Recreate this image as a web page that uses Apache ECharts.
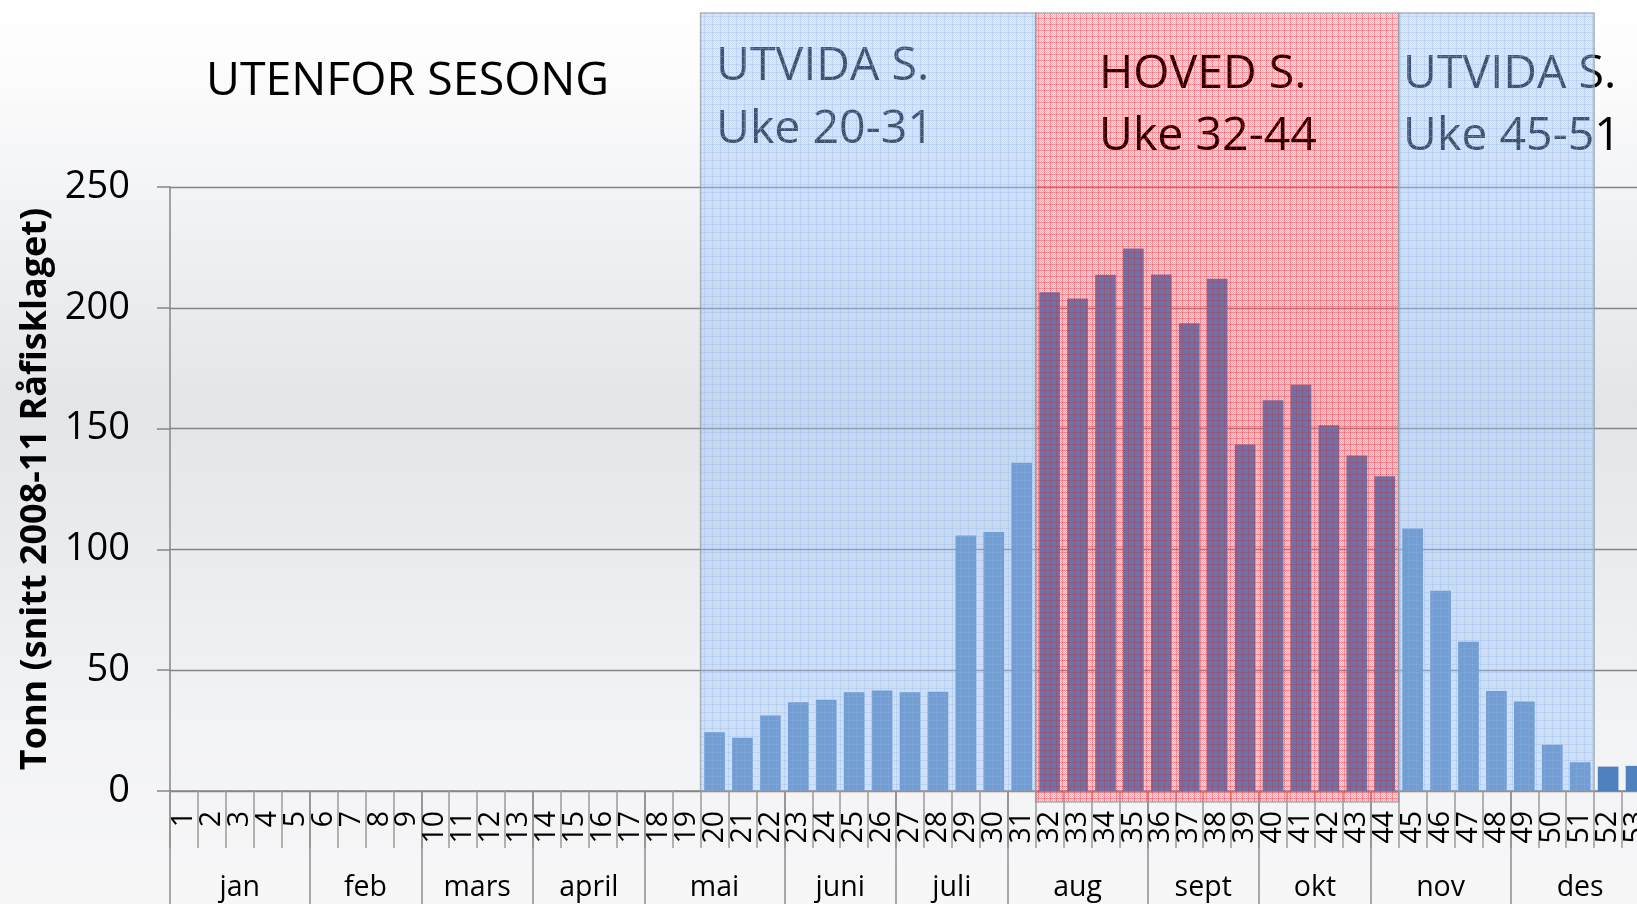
<!DOCTYPE html>
<html>
<head>
<meta charset="utf-8">
<script src="https://cdn.jsdelivr.net/npm/echarts@6/dist/echarts.min.js"></script>
<style>
html,body{margin:0;padding:0;width:1637px;height:904px;overflow:hidden;}
#chart{width:1637px;height:904px;}
</style>
</head>
<body>
<div id="chart"></div>
<script>
// ---- data ----
const weeks = ['1','2','3','4','5','6','7','8','9','10','11','12','13','14','15','16','17','18','19','20',
  '21','22','23','24','25','26','27','28','29','30','31','32','33','34','35','36','37','38','39','40',
  '41','42','43','44','45','46','47','48','49','50','51','52','53'];
const tonnes = [0,0,0,0,0,0,0,0,0,0,0,0,0,0,0,0,0,0,0,
  24.3,22.0,31.2,36.7,37.8,40.9,41.6,40.9,41.1,105.8,107.2,135.9,
  206.4,203.8,213.7,224.5,213.8,193.6,212.0,143.4,161.7,168.2,151.4,138.9,130.3,
  108.7,82.9,61.8,41.4,37.0,19.1,11.9,10.1,10.4];
const months = ['jan','feb','mars','april','mai','juni','juli','aug','sept','okt','nov','des'];
const monthWeekCounts = [5,4,4,4,5,4,4,5,4,4,5,5];
const yTicks = [0,50,100,150,200,250];
const seasonStart = [20,32,45];
const seasonEnd = [31,44,51];
const seasonKind = ['ext','main','ext'];
const seasonTitle = ['UTVIDA S.','HOVED S.','UTVIDA S.'];
const seasonWeeks = ['Uke 20-31','Uke 32-44','Uke 45-51'];
const outsideTitle = 'UTENFOR SESONG';
const yName = 'Tonn (snitt 2008-11 Råfisklaget)';

// month axis at half-week resolution (boundaryGap false: 0..53 weeks in 0.5 steps)
const monthSlots = new Array(107).fill('');
const monthBounds = new Set([0]);
let acc = 0;
months.forEach((m,i)=>{
  monthSlots[acc*2 + monthWeekCounts[i]] = m;
  acc += monthWeekCounts[i];
  monthBounds.add(acc*2);
});

// ---- patterns ----
function tile(n, draw){
  const c = document.createElement('canvas');
  c.width = n; c.height = n;
  draw(c.getContext('2d'), n);
  return {image:c, repeat:'repeat'};
}
const fills = {
  // main season: pink base under the bars, red speckle above them
  mainUnder: tile(6,(g,n)=>{
    g.fillStyle='rgba(245,140,150,0.22)'; g.fillRect(0,0,n,n);
    g.fillStyle='rgba(240,80,90,0.18)';
    for(let y=0;y<n;y++) for(let x=0;x<n;x++) if((x+y)%2===0) g.fillRect(x,y,1,1);
  }),
  mainOver: tile(6,(g,n)=>{
    g.fillStyle='rgba(235,40,55,0.15)';
    for(let y=0;y<n;y++) for(let x=0;x<n;x++) if((x+y)%2===0) g.fillRect(x,y,1,1);
    g.fillStyle='rgba(230,30,45,0.30)';
    g.fillRect(0,0,n,1); g.fillRect(0,0,1,n);
  }),
  ext: tile(8,(g,n)=>{
    g.fillStyle='rgba(170,200,240,0.36)'; g.fillRect(0,0,n,n);
    g.fillStyle='rgba(150,185,235,0.22)';
    for(let y=0;y<n;y++) for(let x=0;x<n;x++) if((x+y)%2===0) g.fillRect(x,y,1,1);
    g.fillStyle='rgba(140,180,235,0.30)';
    g.fillRect(0,0,n,1); g.fillRect(0,0,1,n);
  })
};

const FONT = 'Open Sans';
const chart = echarts.init(document.getElementById('chart'));

const txt = (t,x,y)=>({type:'text', z:2, style:{text:t, x:x, y:y, fill:'#000', font:'46.5px "Open Sans"', verticalAlign:'middle'}});

function regionRenderer(layer){
  return (params,api)=>{
    const s=api.value(0), e=api.value(1), k=api.value(2);
    const kind = seasonKind[k];
    if (layer==='under' && kind!=='main') return null;
    const bw=api.size([1,0])[0];
    const p0=api.coord([s,0]), p1=api.coord([e,0]);
    const x0=p0[0]-bw/2, x1=p1[0]+bw/2;
    const top = params.coordSys.y - 174;
    const bottom = p0[1] + (kind==='main' ? 11 : 0);
    const fill = kind==='main' ? (layer==='under' ? fills.mainUnder : fills.mainOver) : fills.ext;
    return {type:'rect', shape:{x:x0,y:top,width:x1-x0,height:bottom-top},
      style:{fill:fill, stroke: layer==='over' ? 'rgba(150,155,165,0.75)' : null, lineWidth:1.5}};
  };
}
const regionData = seasonStart.map((s,i)=>[s-1, seasonEnd[i]-1, i]);

chart.setOption({
  animation:false,
  backgroundColor:{type:'linear',x:0,y:0,x2:0,y2:1,colorStops:[
    {offset:0,color:'#ffffff'},{offset:0.1,color:'#fbfbfc'},{offset:0.3,color:'#eceef1'},
    {offset:0.45,color:'#e3e5e9'},{offset:0.6,color:'#e9ebee'},{offset:0.8,color:'#f2f3f5'},{offset:1,color:'#f7f7f8'}]},
  textStyle:{fontFamily:FONT},
  grid:{left:170,right:-13,top:187,bottom:113,containLabel:false,outerBoundsMode:'none'},
  graphic:[
    txt(outsideTitle,206,82),
    txt(seasonTitle[0],716,67), txt(seasonWeeks[0],716,130),
    txt(seasonTitle[1],1099,75), txt(seasonWeeks[1],1099,137),
    txt(seasonTitle[2],1403,75), txt(seasonWeeks[2],1403,137)
  ],
  xAxis:[{
    type:'category', data:weeks, position:'bottom',
    axisLine:{show:true,lineStyle:{color:'#868686',width:1.5}},
    axisTick:{show:true,interval:0,length:57,lineStyle:{color:'#9a9a9a',width:1.5}},
    axisLabel:{interval:0,rotate:90,margin:20,fontSize:28.5,fontFamily:FONT,color:'#000'},
    splitLine:{show:false}
  },{
    type:'category', data:monthSlots, position:'bottom', boundaryGap:false,
    axisLine:{show:false},
    axisTick:{show:true,length:130,interval:(i)=>monthBounds.has(i),lineStyle:{color:'#8e8e8e',width:1.5}},
    axisLabel:{interval:0,margin:82,fontSize:28.5,fontFamily:FONT,color:'#000'},
    splitLine:{show:false}
  }],
  yAxis:{
    type:'value', min:yTicks[0], max:yTicks[yTicks.length-1], interval:yTicks[1]-yTicks[0],
    axisLine:{show:true,lineStyle:{color:'#868686',width:1.5}},
    axisTick:{show:true,length:13,lineStyle:{color:'#868686',width:1.5}},
    splitLine:{lineStyle:{color:'#858585',width:1.3}},
    axisLabel:{fontSize:38,margin:40,color:'#000',fontFamily:FONT},
    name:yName, nameLocation:'middle', nameGap:116,
    nameTextStyle:{fontSize:36,fontWeight:'bold',color:'#000',fontFamily:FONT}
  },
  series:[{
    type:'custom', xAxisIndex:0, z:1, clip:false, silent:true,
    data:regionData, encode:{x:[0,1]}, renderItem:regionRenderer('under')
  },{
    type:'bar', data:tonnes, xAxisIndex:0, barCategoryGap:'26%', z:2,
    itemStyle:{color:'#4f81bd'}
  },{
    type:'custom', xAxisIndex:0, z:3, clip:false, silent:true,
    data:regionData, encode:{x:[0,1]}, renderItem:regionRenderer('over')
  }]
});
</script>
</body>
</html>
